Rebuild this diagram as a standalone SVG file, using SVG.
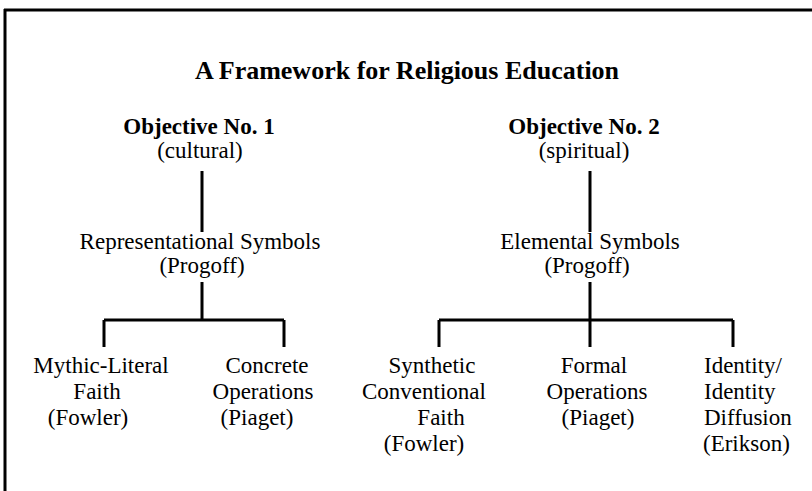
<svg xmlns="http://www.w3.org/2000/svg" width="812" height="491" viewBox="0 0 812 491">
<style>
text{font-family:"Liberation Serif","Times New Roman",serif;fill:#000;font-size:23px;text-anchor:middle}
.b{font-weight:bold}
.t{font-size:26px;font-weight:bold}
.l{stroke:#000;stroke-width:3;fill:none}
.s{text-anchor:start}
</style>
<rect width="812" height="491" fill="#fff"/>
<g id="frame"><path class="l" d="M4 10H812M5 9V491"/></g>
<g id="title"><text class="t" x="407" y="79">A Framework for Religious Education</text></g>
<g id="connectors">
<path class="l" d="M202 171V232M202 282V320M104 320H284M104 320V347M284 320V347"/>
<path class="l" d="M590 171V232M590 282V347M439 320H733M439 320V347M733 320V347"/>
</g>
<g id="obj1"><text class="b" x="199" y="134">Objective No. 1</text><text x="200" y="158">(cultural)</text></g>
<g id="obj2"><text class="b" x="584" y="134">Objective No. 2</text><text x="584" y="158">(spiritual)</text></g>
<g id="repr"><text x="200" y="249">Representational Symbols</text><text x="202" y="273">(Progoff)</text></g>
<g id="elem"><text x="590" y="249">Elemental Symbols</text><text x="587" y="273">(Progoff)</text></g>
<g id="mythic"><text x="101" y="373">Mythic-Literal</text><text x="97" y="399">Faith</text><text x="88" y="425">(Fowler)</text></g>
<g id="concrete"><text x="267" y="373">Concrete</text><text x="263" y="399">Operations</text><text x="257" y="425">(Piaget)</text></g>
<g id="synthetic"><text x="432" y="373">Synthetic</text><text x="424" y="399">Conventional</text><text x="441" y="425">Faith</text><text x="424" y="451">(Fowler)</text></g>
<g id="formal"><text x="594" y="373">Formal</text><text x="597" y="399">Operations</text><text x="598" y="425">(Piaget)</text></g>
<g id="identity"><text class="s" x="704" y="373">Identity/</text><text class="s" x="704" y="399">Identity</text><text class="s" x="704" y="425">Diffusion</text><text class="s" x="703" y="451">(Erikson)</text></g>
</svg>
